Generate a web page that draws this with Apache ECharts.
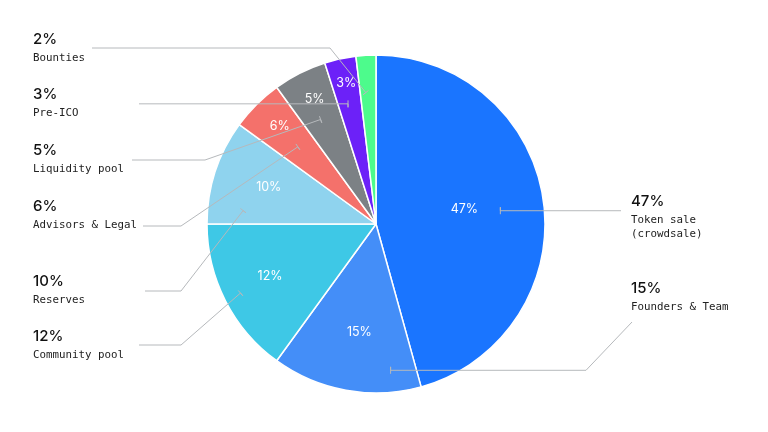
<!DOCTYPE html>
<html>
<head>
<meta charset="utf-8">
<script src="https://cdn.jsdelivr.net/npm/echarts@6/dist/echarts.min.js"></script>
<style>
html,body{margin:0;padding:0;background:#fff;}
#c{width:768px;height:432px;}
</style>
</head>
<body>
<div id="c"></div>
<script>
// ---- data ----
const categories = ['Token sale\n(crowdsale)', 'Founders & Team', 'Community pool', 'Reserves', 'Advisors & Legal', 'Liquidity pool', 'Pre-ICO', 'Bounties'];
// slice sizes as drawn in the picture (share of the full circle)
const sliceShares = [45.7, 14.3, 15, 10, 5, 5.1, 3, 1.9];
// percentages printed on the picture
const percentLabels = [47, 15, 12, 10, 6, 5, 3, 2];
const colors = ['#1a75ff', '#448ef8', '#3ec8e6', '#8fd3ee', '#f4716b', '#7c8185', '#6c21f8', '#4dfb8c'];
const showInside = [true, true, true, true, true, true, true, false];

// ---- annotation layout (not data) ----
// inside percentage label: [fraction of slice angle, fraction of radius]
const insideLabelPos = [[0.49, 0.53], [0.47, 0.65], [0.51, 0.70], [0.52, 0.67], [0.52, 0.81], [0.53, 0.82], [0.53, 0.85], [0.5, 0.8]];
// start tick of each leader line: [fraction of slice angle, fraction of radius]
const tickPos = [[0.51, 0.74], [0.19, 0.87], [0.50, 0.90], [0.16, 0.79], [0.48, 0.65], [0.44, 0.70], [0.42, 0.73], [0.35, 0.78]];
const calloutSide = ['right', 'right', 'left', 'left', 'left', 'left', 'left', 'left'];
const calloutTop = [195, 282, 330, 275, 200, 144, 88, 33];
const leaderEnd = [[621, null], [632, 322], [139, 345], [145, 291], [143, 226], [132, 160], [139, null], [92, 48]];
const leaderKneeX = [null, 586, 181, 181, 181, 205, null, 330];
const kneeOnSlice = [false, true, false, false, false, false, false, false];

const PIE_CENTER = [376, 224];
const PIE_RADIUS = 169;

const chart = echarts.init(document.getElementById('c'), null, { renderer: 'canvas' });

function sliceLayout(i) {
  try {
    const L = chart.getModel().getSeriesByIndex(0).getData().getItemLayout(i);
    if (L && isFinite(L.startAngle) && isFinite(L.endAngle)) return L;
  } catch (e) {}
  const total = sliceShares.reduce((a, b) => a + b, 0);
  let acc = 0;
  for (let k = 0; k < i; k++) acc += sliceShares[k];
  const s = -Math.PI / 2 + acc / total * Math.PI * 2;
  const e = s + sliceShares[i] / total * Math.PI * 2;
  return { cx: PIE_CENTER[0], cy: PIE_CENTER[1], r: PIE_RADIUS, startAngle: s, endAngle: e };
}
function pointIn(L, frac, rfrac) {
  const a = L.startAngle + (L.endAngle - L.startAngle) * frac;
  return [L.cx + L.r * rfrac * Math.cos(a), L.cy + L.r * rfrac * Math.sin(a)];
}

const pieData = categories.map((name, i) => ({
  name: name,
  value: sliceShares[i],
  pct: percentLabels[i],
  itemStyle: { color: colors[i] },
  label: { show: showInside[i] }
}));
const calloutData = categories.map((name, i) => ({ name: name, value: sliceShares[i], pct: percentLabels[i] }));

const option = {
  animation: false,
  backgroundColor: '#ffffff',
  series: [
    {
      type: 'pie',
      z: 2,
      center: PIE_CENTER,
      radius: PIE_RADIUS,
      startAngle: 90,
      clockwise: true,
      silent: true,
      avoidLabelOverlap: false,
      itemStyle: { borderColor: '#ffffff', borderWidth: 1.5 },
      label: {
        position: 'inside',
        formatter: p => percentLabels[p.dataIndex] + '%',
        color: '#ffffff',
        fontFamily: 'Inter',
        fontSize: 12.5,
        fontWeight: 400
      },
      labelLine: { show: false },
      labelLayout: function (p) {
        const i = p.dataIndex;
        const L = sliceLayout(i);
        const pt = pointIn(L, insideLabelPos[i][0], insideLabelPos[i][1]);
        return { x: pt[0], y: pt[1], align: 'center', verticalAlign: 'middle' };
      },
      data: pieData
    },
    {
      type: 'pie',
      z: 5,
      center: PIE_CENTER,
      radius: PIE_RADIUS,
      startAngle: 90,
      clockwise: true,
      silent: true,
      avoidLabelOverlap: false,
      itemStyle: { color: 'rgba(0,0,0,0)', borderWidth: 0 },
      emphasis: { disabled: true },
      label: {
        show: true,
        position: 'outside',
        formatter: p => '{p|' + percentLabels[p.dataIndex] + '%}\n{n|' + p.name + '}',
        rich: {
          p: { fontFamily: 'Inter', fontSize: 15, fontWeight: 500, color: '#111111', lineHeight: 24 },
          n: { fontFamily: 'DejaVu Sans Mono', fontSize: 10.8, color: '#222222', lineHeight: 14 }
        }
      },
      labelLine: {
        show: true,
        lineStyle: { color: '#b6b9bc', width: 1 }
      },
      labelLayout: function (p) {
        const i = p.dataIndex;
        const L = sliceLayout(i);
        const start = pointIn(L, tickPos[i][0], tickPos[i][1]);
        const end = [leaderEnd[i][0], leaderEnd[i][1] == null ? start[1] : leaderEnd[i][1]];
        const pts = [];
        let next;
        if (leaderKneeX[i] == null) {
          next = end;
        } else if (kneeOnSlice[i]) {
          next = [leaderKneeX[i], start[1]];
        } else {
          next = [leaderKneeX[i], end[1]];
        }
        const dx = next[0] - start[0], dy = next[1] - start[1];
        const len = Math.sqrt(dx * dx + dy * dy) || 1;
        const nx = -dy / len * 3.5, ny = dx / len * 3.5;
        pts.push([start[0] + nx, start[1] + ny]);
        pts.push([start[0] - nx, start[1] - ny]);
        pts.push(start);
        if (next !== end) pts.push(next);
        pts.push(end);
        const lx = calloutSide[i] === 'right' ? 631 : 33;
        return {
          x: lx,
          y: calloutTop[i] - 6,
          align: 'left',
          verticalAlign: 'top',
          labelLinePoints: pts
        };
      },
      data: calloutData
    }
  ]
};
chart.setOption(option);
</script>
</body>
</html>
